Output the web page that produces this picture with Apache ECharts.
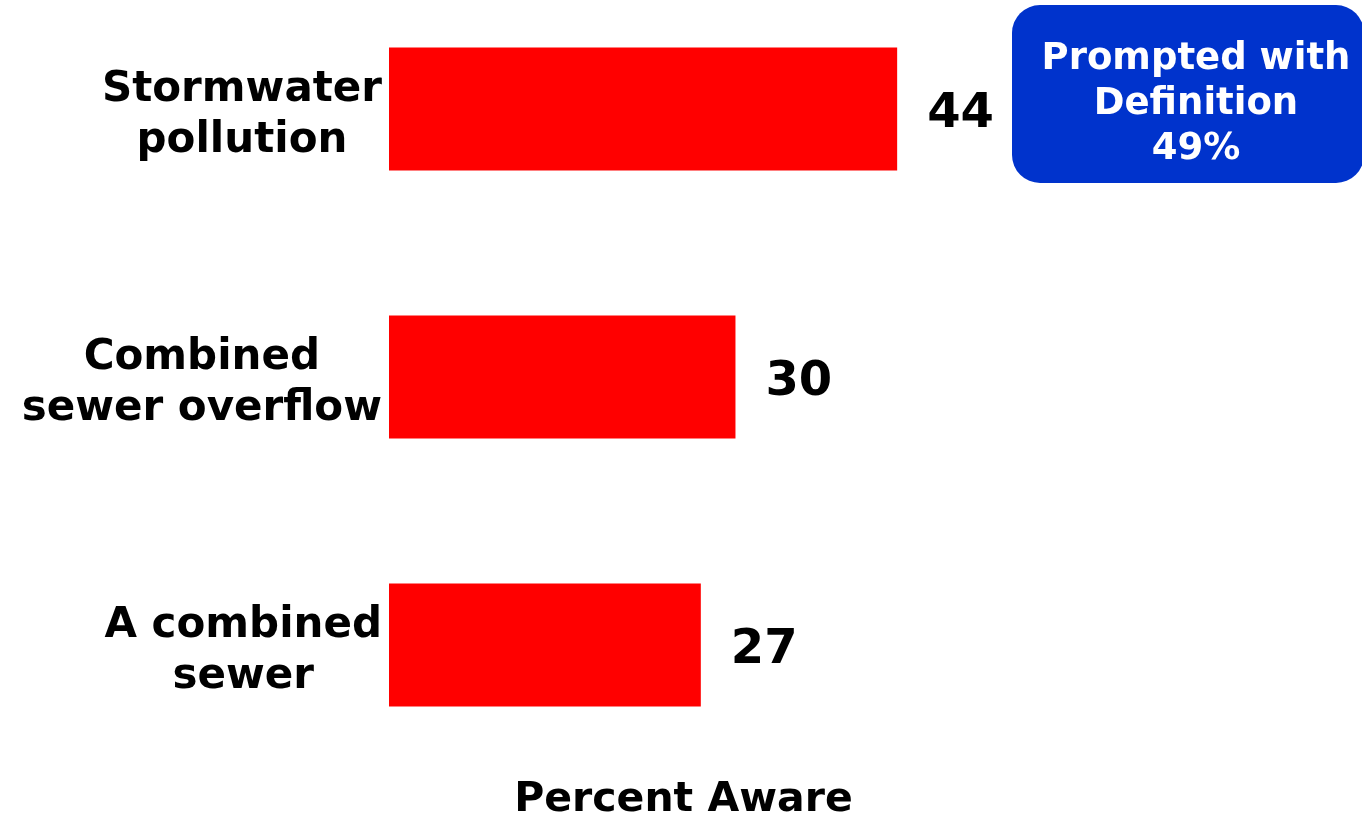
<!DOCTYPE html>
<html>
<head>
<meta charset="utf-8">
<script src="https://cdn.jsdelivr.net/npm/echarts@6/dist/echarts.min.js"></script>
<style>
html,body{margin:0;padding:0;background:#fff;}
#chart{width:1362px;height:815px;}
</style>
</head>
<body>
<div id="chart"></div>
<script>
const categories = ['Stormwater\npollution', 'Combined\nsewer overflow', 'A combined\nsewer'];
const values = [44, 30, 27];
const axisTitle = 'Percent Aware';
const calloutLines = ['Prompted with', 'Definition'];
const calloutValue = 49;

const FONT = '"DejaVu Sans", Verdana, sans-serif';
const chart = echarts.init(document.getElementById('chart'), null, {renderer: 'canvas'});

chart.setOption({
  backgroundColor: '#ffffff',
  animation: false,
  grid: {left: 389, right: 384, top: -25, bottom: 36, containLabel: false, outerBoundsMode: 'none'},
  xAxis: {
    type: 'value', min: 0, max: 51,
    axisLine: {show: false}, axisTick: {show: false}, axisLabel: {show: false},
    splitLine: {show: false},
    name: axisTitle, nameLocation: 'middle', nameGap: 1,
    nameTextStyle: {fontFamily: FONT, fontWeight: 'bold', fontSize: 41, color: '#000'}
  },
  yAxis: {
    type: 'category', data: categories, inverse: true,
    axisLine: {show: false}, axisTick: {show: false}, splitLine: {show: false},
    axisLabel: {
      margin: 7,
      padding: [14, 0, 0, 0],
      formatter: function (v) {
        return v.split('\n').map(function (l) { return '{c|' + l + '}'; }).join('\n');
      },
      rich: {
        c: {align: 'center', fontFamily: FONT, fontWeight: 'bold', fontSize: 42, lineHeight: 51, color: '#000'}
      }
    }
  },
  series: [{
    type: 'bar', data: values, barWidth: 123,
    itemStyle: {color: '#ff0000'},
    label: {
      show: true, position: 'right', distance: 30, offset: [0, 6],
      fontFamily: FONT, fontWeight: 'bold', fontSize: 48, color: '#000'
    }
  }],
  graphic: [{
    type: 'group', left: 1012, top: 5,
    children: [{
      type: 'rect', shape: {x: 0, y: 0, width: 352, height: 178, r: 28},
      style: {fill: '#0033cc'}
    }, {
      type: 'text', x: 184, y: 99,
      style: {
        text: calloutLines.join('\n') + '\n' + calloutValue + '%',
        align: 'center', verticalAlign: 'middle',
        fontFamily: FONT, fontWeight: 'bold', fontSize: 37, lineHeight: 45, fill: '#fff'
      }
    }]
  }]
});
</script>
</body>
</html>
